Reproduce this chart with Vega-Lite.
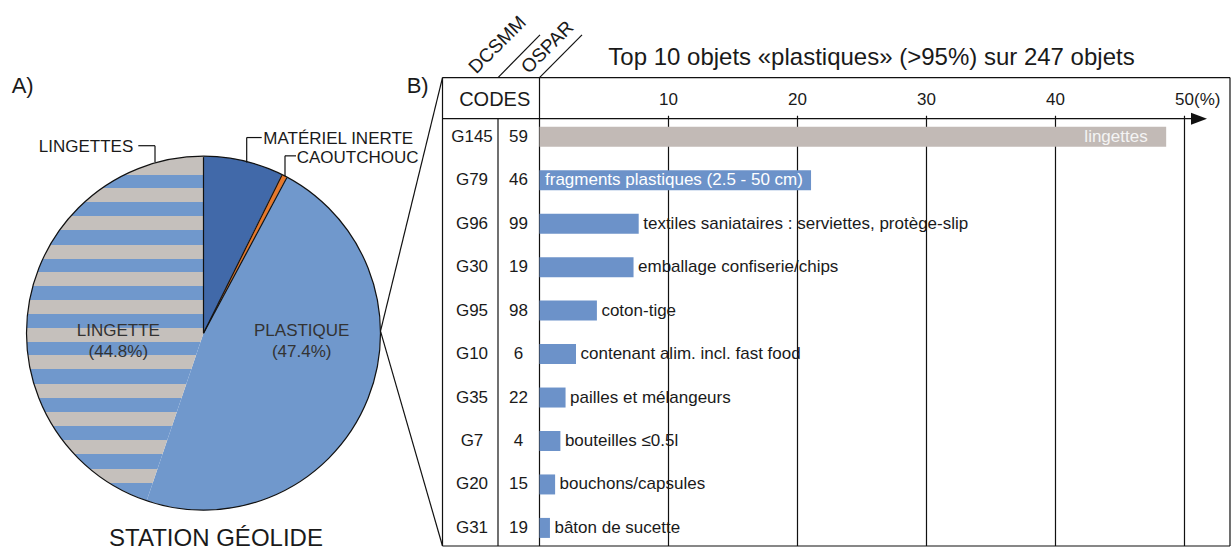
{
  "$schema": "https://vega.github.io/schema/vega-lite/v6.json",
  "width": 1231,
  "height": 552,
  "autosize": {"type": "fit", "contains": "padding"},
  "padding": 0,
  "background": "white",
  "config": {"view": {"stroke": null}, "text": {"font": "Liberation Sans"}, "bar": {"continuousBandSize": 20}, "scale": {"continuousPadding": 0}},
  "data": {"values": [{}]},
  "datasets": {
    "bars": [
      {"rank": 1, "code": "G145", "ospar": "59", "label": "lingettes", "pct": 48.58},
      {"rank": 2, "code": "G79", "ospar": "46", "label": "fragments plastiques (2.5 - 50 cm)", "pct": 21.05},
      {"rank": 3, "code": "G96", "ospar": "99", "label": "textiles saniataires : serviettes, protège-slip", "pct": 7.69},
      {"rank": 4, "code": "G30", "ospar": "19", "label": "emballage confiserie/chips", "pct": 7.29},
      {"rank": 5, "code": "G95", "ospar": "98", "label": "coton-tige", "pct": 4.45},
      {"rank": 6, "code": "G10", "ospar": "6", "label": "contenant alim. incl. fast food", "pct": 2.83},
      {"rank": 7, "code": "G35", "ospar": "22", "label": "pailles et mélangeurs", "pct": 2.02},
      {"rank": 8, "code": "G7", "ospar": "4", "label": "bouteilles ≤0.5l", "pct": 1.62},
      {"rank": 9, "code": "G20", "ospar": "15", "label": "bouchons/capsules", "pct": 1.21},
      {"rank": 10, "code": "G31", "ospar": "19", "label": "bâton de sucette", "pct": 0.81}
    ],
    "pie": [
      {"cat": "MATÉRIEL INERTE", "pct": 7.3, "ord": 1},
      {"cat": "CAOUTCHOUC", "pct": 0.5, "ord": 2},
      {"cat": "PLASTIQUE", "pct": 47.4, "ord": 3},
      {"cat": "LINGETTE", "pct": 44.8, "ord": 4}
    ],
    "ticks": [
      {"v": 10, "l": "10", "y": 0.1487},
      {"v": 20, "l": "20", "y": 0.1487},
      {"v": 30, "l": "30", "y": 0.1487},
      {"v": 40, "l": "40", "y": 0.1487},
      {"v": 50, "l": "50(%)", "y": 0.1487}
    ],
    "lines": [
      {"x": 10, "y": 0.5195, "x2": 10, "y2": 10.4165},
      {"x": 20, "y": 0.5195, "x2": 20, "y2": 10.4165},
      {"x": 30, "y": 0.5195, "x2": 30, "y2": 10.4165},
      {"x": 40, "y": 0.5195, "x2": 40, "y2": 10.4165},
      {"x": 50, "y": 0.5195, "x2": 50, "y2": 10.4165},
      {"x": -7.519, "y": -0.3616, "x2": 53.527, "y2": -0.3616},
      {"x": -7.519, "y": -0.3616, "x2": -7.519, "y2": 10.4165},
      {"x": 53.527, "y": -0.3616, "x2": 53.527, "y2": 10.4165},
      {"x": -7.519, "y": 10.4165, "x2": 53.527, "y2": 10.4165},
      {"x": -3.217, "y": 0.5835, "x2": -3.217, "y2": 10.4165},
      {"x": 0, "y": -0.3616, "x2": 0, "y2": 10.4165},
      {"x": -3.217, "y": -0.3616, "x2": 0.039, "y2": -1.3455},
      {"x": 0, "y": -0.3616, "x2": 3.295, "y2": -1.3455},
      {"x": -7.519, "y": 0.5835, "x2": 51.2, "y2": 0.5835},
      {"x": -12.326, "y": 5.4737, "x2": -7.519, "y2": -0.3616},
      {"x": -12.326, "y": 5.4737, "x2": -7.519, "y2": 10.4165},
      {"x": -31.101, "y": 1.206, "x2": -29.806, "y2": 1.206},
      {"x": -29.806, "y": 1.206, "x2": -29.806, "y2": 1.5835},
      {"x": -22.698, "y": 1.0183, "x2": -21.535, "y2": 1.0183},
      {"x": -22.698, "y": 1.0183, "x2": -22.698, "y2": 1.595},
      {"x": -19.729, "y": 1.4394, "x2": -18.876, "y2": 1.4394},
      {"x": -19.729, "y": 1.4394, "x2": -19.729, "y2": 1.925},
      {"x": -26.047, "y": 5.5195, "x2": -26.047, "y2": 1.4691},
      {"x": -26.047, "y": 5.5195, "x2": -19.969, "y2": 1.8879},
      {"x": -26.047, "y": 5.5195, "x2": -19.589, "y2": 1.9451}
    ],
    "notes": [
      {"g": "big", "t": "A)", "x": -40.915, "y": -0.1716},
      {"g": "big", "t": "B)", "x": -10.295, "y": -0.1716},
      {"g": "title", "t": "Top 10 objets «plastiques» (>95%) sur 247 objets", "x": 25.736, "y": -0.801},
      {"g": "hdr", "t": "CODES", "x": -3.473, "y": 0.1465},
      {"g": "rot", "t": "DCSMM", "x": -3.256, "y": -1.1167},
      {"g": "rot", "t": "OSPAR", "x": 0.62, "y": -1.0595},
      {"g": "pie", "t": "LINGETTE", "x": -32.651, "y": 5.4668},
      {"g": "pie", "t": "(44.8%)", "x": -32.651, "y": 5.9611},
      {"g": "pie", "t": "PLASTIQUE", "x": -18.434, "y": 5.4668},
      {"g": "pie", "t": "(47.4%)", "x": -18.434, "y": 5.9611},
      {"g": "lr", "t": "LINGETTES", "x": -31.488, "y": 1.2334},
      {"g": "ll", "t": "MATÉRIEL INERTE", "x": -21.411, "y": 1.0412},
      {"g": "ll", "t": "CAOUTCHOUC", "x": -18.822, "y": 1.4989},
      {"g": "station", "t": "STATION GÉOLIDE", "x": -25.078, "y": 10.2654}
    ]
  },
  "layer": [
    {
      "data": {"name": "lines"},
      "transform": [{"filter": "datum.x > -20 && datum.x2 > -20"}],
      "mark": {"type": "rule", "color": "#111111", "strokeWidth": 1.2},
      "encoding": {
        "x": {"field": "x", "type": "quantitative", "scale": {"domain": [-41.822, 53.605], "nice": false, "zero": false, "padding": 0}, "axis": null},
        "y": {"field": "y", "type": "quantitative", "scale": {"domain": [-2.1465, 10.4851], "nice": false, "zero": false, "reverse": true, "padding": 0}, "axis": null},
        "x2": {"field": "x2"},
        "y2": {"field": "y2"}
      }
    },
    {
      "data": {"name": "bars"},
      "mark": {"type": "bar", "orient": "horizontal", "height": 20},
      "encoding": {
        "x": {"field": "pct", "type": "quantitative", "stack": null},
        "y": {"field": "rank", "type": "quantitative"},
        "color": {"condition": {"test": "datum.rank === 1", "value": "#c2bab6"}, "value": "#6c92c9"}
      }
    },
    {
      "data": {"name": "pie"},
      "mark": {"type": "arc", "radius": 177, "strokeWidth": 0, "x": {"expr": "scale('x', -26.047)"}, "y": {"expr": "scale('y', 5.5195)"}},
      "encoding": {
        "theta": {"field": "pct", "type": "quantitative", "stack": true},
        "order": {"field": "ord", "type": "quantitative"},
        "color": {
          "condition": {
            "test": "datum.cat === 'LINGETTE'",
            "value": {
              "gradient": "linear", "x1": 0, "y1": 0, "x2": 0, "y2": 1,
              "stops": [
                {"offset": 0, "color": "#c5c0bc"}, {"offset": 0.0537, "color": "#c5c0bc"},
                {"offset": 0.0537, "color": "#7098cc"}, {"offset": 0.0929, "color": "#7098cc"},
                {"offset": 0.0929, "color": "#c5c0bc"}, {"offset": 0.1335, "color": "#c5c0bc"},
                {"offset": 0.1335, "color": "#7098cc"}, {"offset": 0.1741, "color": "#7098cc"},
                {"offset": 0.1741, "color": "#c5c0bc"}, {"offset": 0.2147, "color": "#c5c0bc"},
                {"offset": 0.2147, "color": "#7098cc"}, {"offset": 0.2568, "color": "#7098cc"},
                {"offset": 0.2568, "color": "#c5c0bc"}, {"offset": 0.2974, "color": "#c5c0bc"},
                {"offset": 0.2974, "color": "#7098cc"}, {"offset": 0.3366, "color": "#7098cc"},
                {"offset": 0.3366, "color": "#c5c0bc"}, {"offset": 0.3772, "color": "#c5c0bc"},
                {"offset": 0.3772, "color": "#7098cc"}, {"offset": 0.4179, "color": "#7098cc"},
                {"offset": 0.4179, "color": "#c5c0bc"}, {"offset": 0.4585, "color": "#c5c0bc"},
                {"offset": 0.4585, "color": "#7098cc"}, {"offset": 0.4977, "color": "#7098cc"},
                {"offset": 0.4977, "color": "#c5c0bc"}, {"offset": 0.5383, "color": "#c5c0bc"},
                {"offset": 0.5383, "color": "#7098cc"}, {"offset": 0.5775, "color": "#7098cc"},
                {"offset": 0.5775, "color": "#c5c0bc"}, {"offset": 0.6181, "color": "#c5c0bc"},
                {"offset": 0.6181, "color": "#7098cc"}, {"offset": 0.6616, "color": "#7098cc"},
                {"offset": 0.6616, "color": "#c5c0bc"}, {"offset": 0.7022, "color": "#c5c0bc"},
                {"offset": 0.7022, "color": "#7098cc"}, {"offset": 0.7429, "color": "#7098cc"},
                {"offset": 0.7429, "color": "#c5c0bc"}, {"offset": 0.7835, "color": "#c5c0bc"},
                {"offset": 0.7835, "color": "#7098cc"}, {"offset": 0.8241, "color": "#7098cc"},
                {"offset": 0.8241, "color": "#c5c0bc"}, {"offset": 0.8648, "color": "#c5c0bc"},
                {"offset": 0.8648, "color": "#7098cc"}, {"offset": 0.9083, "color": "#7098cc"},
                {"offset": 0.9083, "color": "#c5c0bc"}, {"offset": 0.9475, "color": "#c5c0bc"},
                {"offset": 0.9475, "color": "#7098cc"}, {"offset": 1, "color": "#7098cc"}
              ]
            }
          },
          "field": "cat",
          "type": "nominal",
          "scale": {"domain": ["MATÉRIEL INERTE", "CAOUTCHOUC", "PLASTIQUE", "LINGETTE"], "range": ["#4169a9", "#e6792c", "#7098cc", "#7098cc"]},
          "legend": null
        }
      }
    },
    {
      "mark": {"type": "point", "shape": "circle", "size": 125316, "filled": false, "stroke": "#111111", "strokeWidth": 1.2, "opacity": 1},
      "encoding": {
        "x": {"datum": -26.047, "type": "quantitative"},
        "y": {"datum": 5.5195, "type": "quantitative"}
      }
    },
    {
      "data": {"name": "lines"},
      "transform": [{"filter": "datum.x <= -20 || datum.x2 <= -20"}],
      "mark": {"type": "rule", "color": "#111111", "strokeWidth": 1.2},
      "encoding": {
        "x": {"field": "x", "type": "quantitative"},
        "y": {"field": "y", "type": "quantitative"},
        "x2": {"field": "x2"},
        "y2": {"field": "y2"}
      }
    },
    {
      "mark": {"type": "point", "shape": "M1,0L-1,-0.75L-1,0.75Z", "size": 256, "filled": true, "color": "#111111", "opacity": 1},
      "encoding": {
        "x": {"datum": 51.124, "type": "quantitative"},
        "y": {"datum": 0.5835, "type": "quantitative"}
      }
    },
    {
      "data": {"name": "ticks"},
      "mark": {"type": "text", "align": "left", "baseline": "middle", "dx": -9.4, "fontSize": 17, "color": "#1a1a1a"},
      "encoding": {
        "x": {"field": "v", "type": "quantitative"},
        "y": {"field": "y", "type": "quantitative"},
        "text": {"field": "l"}
      }
    },
    {
      "data": {"name": "bars"},
      "mark": {"type": "text", "align": "center", "baseline": "middle", "fontSize": 17, "color": "#1a1a1a"},
      "encoding": {
        "x": {"datum": -5.233, "type": "quantitative"},
        "y": {"field": "rank", "type": "quantitative"},
        "text": {"field": "code"}
      }
    },
    {
      "data": {"name": "bars"},
      "mark": {"type": "text", "align": "center", "baseline": "middle", "fontSize": 17, "color": "#1a1a1a"},
      "encoding": {
        "x": {"datum": -1.628, "type": "quantitative"},
        "y": {"field": "rank", "type": "quantitative"},
        "text": {"field": "ospar"}
      }
    },
    {
      "data": {"name": "bars"},
      "transform": [{"filter": "datum.rank >= 3"}],
      "mark": {"type": "text", "align": "left", "baseline": "middle", "dx": 4.5, "fontSize": 17, "color": "#1a1a1a"},
      "encoding": {
        "x": {"field": "pct", "type": "quantitative"},
        "y": {"field": "rank", "type": "quantitative"},
        "text": {"field": "label"}
      }
    },
    {
      "data": {"name": "bars"},
      "transform": [{"filter": "datum.rank === 1"}],
      "mark": {"type": "text", "align": "right", "baseline": "middle", "dx": -18.5, "fontSize": 17, "color": "#f4f4f4"},
      "encoding": {
        "x": {"field": "pct", "type": "quantitative"},
        "y": {"field": "rank", "type": "quantitative"},
        "text": {"field": "label"}
      }
    },
    {
      "data": {"name": "bars"},
      "transform": [{"filter": "datum.rank === 2"}],
      "mark": {"type": "text", "align": "left", "baseline": "middle", "dx": 5.5, "fontSize": 17, "color": "#ffffff"},
      "encoding": {
        "x": {"datum": 0, "type": "quantitative"},
        "y": {"field": "rank", "type": "quantitative"},
        "text": {"field": "label"}
      }
    },
    {
      "data": {"name": "notes"},
      "transform": [{"filter": "datum.g === 'big'"}],
      "mark": {"type": "text", "align": "left", "baseline": "middle", "fontSize": 22, "color": "#1a1a1a"},
      "encoding": {
        "x": {"field": "x", "type": "quantitative"},
        "y": {"field": "y", "type": "quantitative"},
        "text": {"field": "t"}
      }
    },
    {
      "data": {"name": "notes"},
      "transform": [{"filter": "datum.g === 'title'"}],
      "mark": {"type": "text", "align": "center", "baseline": "middle", "fontSize": 24, "color": "#1a1a1a"},
      "encoding": {
        "x": {"field": "x", "type": "quantitative"},
        "y": {"field": "y", "type": "quantitative"},
        "text": {"field": "t"}
      }
    },
    {
      "data": {"name": "notes"},
      "transform": [{"filter": "datum.g === 'hdr'"}],
      "mark": {"type": "text", "align": "center", "baseline": "middle", "fontSize": 20, "color": "#1a1a1a"},
      "encoding": {
        "x": {"field": "x", "type": "quantitative"},
        "y": {"field": "y", "type": "quantitative"},
        "text": {"field": "t"}
      }
    },
    {
      "data": {"name": "notes"},
      "transform": [{"filter": "datum.g === 'rot'"}],
      "mark": {"type": "text", "align": "center", "baseline": "middle", "fontSize": 19, "angle": -45, "color": "#1a1a1a"},
      "encoding": {
        "x": {"field": "x", "type": "quantitative"},
        "y": {"field": "y", "type": "quantitative"},
        "text": {"field": "t"}
      }
    },
    {
      "data": {"name": "notes"},
      "transform": [{"filter": "datum.g === 'pie'"}],
      "mark": {"type": "text", "align": "center", "baseline": "middle", "fontSize": 17, "color": "#333333"},
      "encoding": {
        "x": {"field": "x", "type": "quantitative"},
        "y": {"field": "y", "type": "quantitative"},
        "text": {"field": "t"}
      }
    },
    {
      "data": {"name": "notes"},
      "transform": [{"filter": "datum.g === 'lr'"}],
      "mark": {"type": "text", "align": "right", "baseline": "middle", "fontSize": 17, "color": "#1a1a1a"},
      "encoding": {
        "x": {"field": "x", "type": "quantitative"},
        "y": {"field": "y", "type": "quantitative"},
        "text": {"field": "t"}
      }
    },
    {
      "data": {"name": "notes"},
      "transform": [{"filter": "datum.g === 'll'"}],
      "mark": {"type": "text", "align": "left", "baseline": "middle", "fontSize": 17, "color": "#1a1a1a"},
      "encoding": {
        "x": {"field": "x", "type": "quantitative"},
        "y": {"field": "y", "type": "quantitative"},
        "text": {"field": "t"}
      }
    },
    {
      "data": {"name": "notes"},
      "transform": [{"filter": "datum.g === 'station'"}],
      "mark": {"type": "text", "align": "center", "baseline": "middle", "fontSize": 24, "color": "#1a1a1a"},
      "encoding": {
        "x": {"field": "x", "type": "quantitative"},
        "y": {"field": "y", "type": "quantitative"},
        "text": {"field": "t"}
      }
    }
  ]
}
